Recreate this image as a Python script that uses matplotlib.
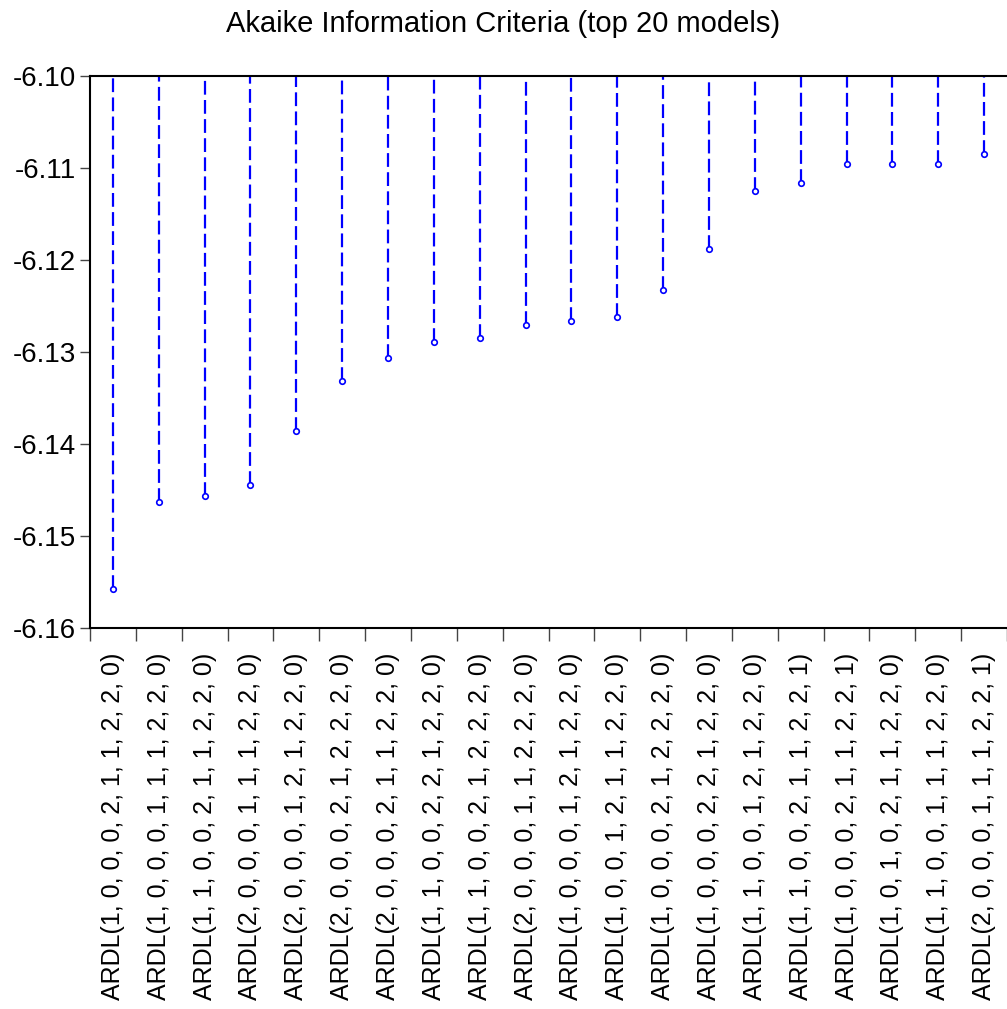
import numpy as np
import matplotlib
matplotlib.use("Agg")
import matplotlib.pyplot as plt

plt.rcParams['font.family'] = ['Liberation Sans', 'DejaVu Sans']

models = [
    "ARDL(1, 0, 0, 0, 2, 1, 1, 2, 2, 0)",
    "ARDL(1, 0, 0, 0, 1, 1, 1, 2, 2, 0)",
    "ARDL(1, 1, 0, 0, 2, 1, 1, 2, 2, 0)",
    "ARDL(2, 0, 0, 0, 1, 1, 1, 2, 2, 0)",
    "ARDL(2, 0, 0, 0, 1, 2, 1, 2, 2, 0)",
    "ARDL(2, 0, 0, 0, 2, 1, 2, 2, 2, 0)",
    "ARDL(2, 0, 0, 0, 2, 1, 1, 2, 2, 0)",
    "ARDL(1, 1, 0, 0, 2, 2, 1, 2, 2, 0)",
    "ARDL(1, 1, 0, 0, 2, 1, 2, 2, 2, 0)",
    "ARDL(2, 0, 0, 0, 1, 1, 2, 2, 2, 0)",
    "ARDL(1, 0, 0, 0, 1, 2, 1, 2, 2, 0)",
    "ARDL(1, 0, 0, 1, 2, 1, 1, 2, 2, 0)",
    "ARDL(1, 0, 0, 0, 2, 1, 2, 2, 2, 0)",
    "ARDL(1, 0, 0, 0, 2, 2, 1, 2, 2, 0)",
    "ARDL(1, 1, 0, 0, 1, 2, 1, 2, 2, 0)",
    "ARDL(1, 1, 0, 0, 2, 1, 1, 2, 2, 1)",
    "ARDL(1, 0, 0, 0, 2, 1, 1, 2, 2, 1)",
    "ARDL(1, 0, 1, 0, 2, 1, 1, 2, 2, 0)",
    "ARDL(1, 1, 0, 0, 1, 1, 1, 2, 2, 0)",
    "ARDL(2, 0, 0, 0, 1, 1, 1, 2, 2, 1)",
]
aic = [-6.1558, -6.1463, -6.1456, -6.1445, -6.1386, -6.1332, -6.1307,
       -6.1289, -6.1285, -6.1271, -6.1266, -6.1262, -6.1233, -6.1188,
       -6.1125, -6.1116, -6.1096, -6.1096, -6.1096, -6.1085]
yticks = [-6.16, -6.15, -6.14, -6.13, -6.12, -6.11, -6.10]

fig = plt.figure(figsize=(10.07, 10.09), dpi=100)
ax = fig.add_axes([0.0894, 0.3776, 0.9106, 0.5471])

x = np.arange(len(models))
top = yticks[-1]
# dashed stems hanging from the top of the axis down to each AIC value
ax.vlines(x, aic, top, colors='#0000ff', linewidth=1.6,
          linestyles=(0, (6.2, 2.4)))
ax.plot(x, aic, 'o', markersize=4, markerfacecolor='white',
        markeredgecolor='#0000ff', markeredgewidth=1.2, linestyle='none')

ax.set_xlim(-0.5, len(models) - 0.5)
ax.set_ylim(yticks[0], yticks[-1])
ax.set_yticks(yticks)
ax.set_yticklabels([f"{v:.2f}" for v in yticks], fontsize=20)

ax.set_xticks(np.arange(len(models) + 1) - 0.5)
ax.set_xticklabels([])
ax.set_xticks(x, minor=True)
ax.set_xticklabels(models, minor=True, rotation=90, fontsize=18)
ax.tick_params(axis='x', which='major', direction='out', length=9, width=1, color='#444444')
ax.tick_params(axis='x', which='minor', length=0, pad=18)
ax.tick_params(axis='y', direction='out', length=7, width=1, color='#444444', pad=3)

for s in ['top', 'left', 'bottom']:
    ax.spines[s].set_linewidth(1.5)
    ax.spines[s].set_color('black')
ax.spines['right'].set_visible(False)

fig.suptitle("Akaike Information Criteria (top 20 models)", fontsize=21, y=0.99, va='top')

fig.savefig("out.png", dpi=100)
